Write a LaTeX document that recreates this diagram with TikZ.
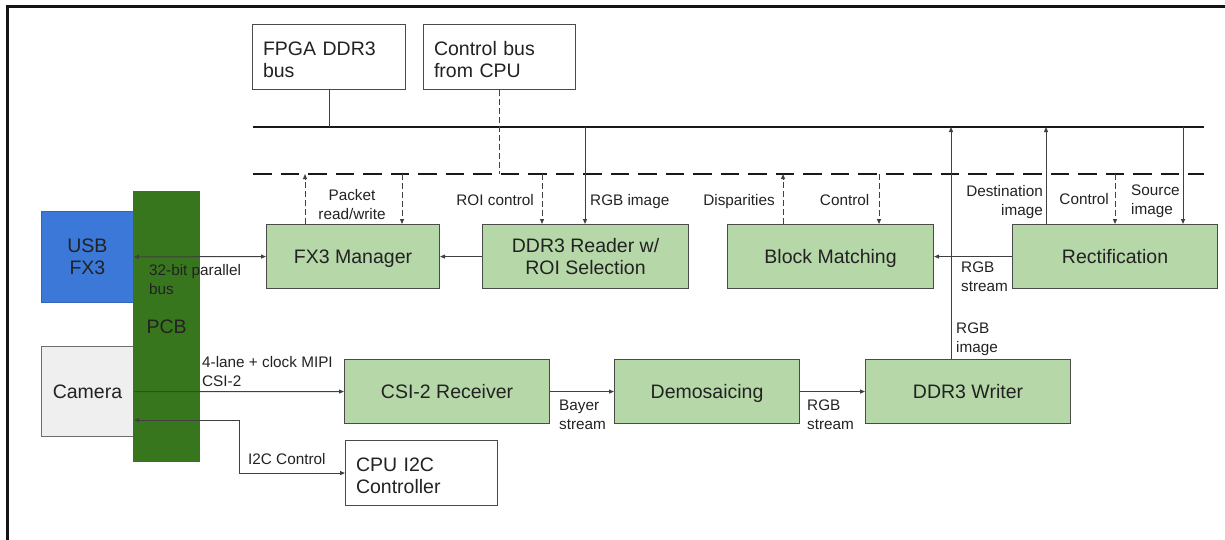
\documentclass[tikz,border=0pt]{standalone}
\usepackage{fontspec}
\setmainfont{Liberation Sans}
\usetikzlibrary{arrows.meta,calc}
\definecolor{boxgreen}{HTML}{B6D7A8}
\definecolor{pcbgreen}{HTML}{38761D}
\definecolor{usbblue}{HTML}{3C78D8}
\definecolor{camgray}{HTML}{EFEFEF}
\definecolor{linegray}{HTML}{404040}
\definecolor{boxline}{HTML}{4A4A4A}
\definecolor{txt}{HTML}{222222}
\newcommand\boxfont{\fontsize{19.5}{22.5}\selectfont}
\newcommand\lblfont{\fontsize{15.3}{19}\selectfont}
\begin{document}
\begin{tikzpicture}[x=1pt,y=-1pt,
  blk/.style={draw=boxline, line width=1.1pt, fill=boxgreen, anchor=north west, inner sep=0pt, font=\boxfont, text=txt, align=center, text depth=0pt},
  wbox/.style={draw=boxline, line width=1.1pt, fill=white, anchor=north west, inner xsep=10.5pt, inner ysep=0pt, font=\boxfont, text=txt, align=left, text height=19pt},
  lbl/.style={font=\lblfont, text=txt, inner sep=0pt},
  conn/.style={draw=linegray, line width=1pt},
  arr/.style={conn, -{Triangle[length=5pt,width=4pt]}},
  biarr/.style={conn, {Triangle[length=5pt,width=4pt]}-{Triangle[length=5pt,width=4pt]}},
  dline/.style={conn, dash pattern=on 6pt off 3pt},
  darr/.style={arr, dash pattern=on 6pt off 3pt},
  busline/.style={draw=black!90, line width=2.2pt},
  dbusline/.style={busline, dash pattern=on 18.5pt off 9pt}
]
\useasboundingbox (0,0) rectangle (1225,539);
\clip (0,0) rectangle (1225,539);
% frame
\draw[draw=black!92, line width=3pt] (7,560) |- (1240,6);

% bus lines
\coordinate (sbL) at (253,127);
\coordinate (sbR) at (1204,127);
\coordinate (dbL) at (253,174);
\coordinate (dbR) at (1204,174);
\draw[busline] (sbL) -- (sbR);
\draw[dbusline] (dbL) -- (dbR);

% top boxes
\node[wbox, minimum width=153, minimum height=65, text width=132] (fpga) at (252,24) {FPGA DDR3\\bus};
\node[wbox, minimum width=152, minimum height=65, text width=131] (ctrl) at (423,24) {Control bus\\from CPU};

% left blocks
\node[anchor=north west, fill=usbblue, draw=usbblue!85!black, line width=0.8pt, minimum width=92, minimum height=91, inner sep=0pt, font=\boxfont, text=txt, align=center] (usb) at (41,211) {USB\\FX3};
\node[anchor=north west, fill=camgray, draw=boxline!80, line width=1pt, minimum width=92, minimum height=90, inner sep=0pt, font=\boxfont, text=txt] (cam) at (41,346) {Camera};
\node[anchor=north west, fill=pcbgreen, minimum width=67, minimum height=271, inner sep=0pt, font=\boxfont, text=txt] (pcb) at (133,191) {PCB};

% green blocks
\node[blk, minimum width=173, minimum height=64] (fx3) at (266,224) {FX3 Manager};
\node[blk, minimum width=206, minimum height=64] (reader) at (482,224) {DDR3 Reader w/\\ROI Selection};
\node[blk, minimum width=206, minimum height=64] (bm) at (727,224) {Block Matching};
\node[blk, minimum width=205, minimum height=64] (rect) at (1012,224) {Rectification};
\node[blk, minimum width=205, minimum height=64] (csi) at (344,359) {CSI-2 Receiver};
\node[blk, minimum width=185, minimum height=64] (demo) at (614,359) {Demosaicing};
\node[blk, minimum width=205, minimum height=64] (writer) at (865,359) {DDR3 Writer};
\node[wbox, minimum width=152, minimum height=65, text width=131] (cpu) at (345,440) {CPU I2C\\Controller};

% connections to buses
\draw[conn] (fpga.south) -- (fpga.south |- sbL);
\draw[dline] (ctrl.south) -- (ctrl.south |- dbL);

\coordinate (xa) at (305,0);
\coordinate (xb) at (402,0);
\coordinate (xc) at (542,0);
\coordinate (xd) at (585,0);
\coordinate (xe) at (783,0);
\coordinate (xf) at (879,0);
\coordinate (xg) at (951,0);
\coordinate (xh) at (1046,0);
\coordinate (xi) at (1115,0);
\coordinate (xj) at (1183,0);

\draw[darr] (fx3.north -| xa) -- (dbL -| xa);
\draw[darr] (dbL -| xb) -- (fx3.north -| xb);
\draw[darr] (dbL -| xc) -- (reader.north -| xc);
\draw[arr] (sbL -| xd) -- (reader.north -| xd);
\draw[darr] (bm.north -| xe) -- (dbL -| xe);
\draw[darr] (dbL -| xf) -- (bm.north -| xf);
\draw[arr] (writer.north -| xg) -- (sbL -| xg);
\draw[arr] (rect.north -| xh) -- (sbL -| xh);
\draw[darr] (dbL -| xi) -- (rect.north -| xi);
\draw[arr] (sbL -| xj) -- (rect.north -| xj);

% horizontal data paths
\draw[biarr] (usb.east) -- (fx3.west);
\draw[arr] (reader.west) -- (fx3.east);
\draw[arr] (rect.west) -- (bm.east);
\draw[arr] (cam.east) -- (csi.west);
\draw[arr] (csi.east) -- (demo.west);
\draw[arr] (demo.east) -- (writer.west);
\coordinate (i2c) at (239,420);
\draw[biarr] (cam.east |- i2c) -- (i2c) |- (cpu.west);

% labels
\node[lbl, align=center, anchor=north] (lpk) at (352,188.8) {Packet\\read/write};
\node[lbl, anchor=base east] (lroi) at (534,205.5) {ROI control};
\node[lbl, anchor=base west] (lrgbi) at (590,205.5) {RGB image};
\node[lbl, anchor=base east] (ldisp) at (775,205.5) {Disparities};
\node[lbl, anchor=base east] (lbmc) at (869.5,205.5) {Control};
\node[lbl, anchor=base east] (lrc) at (1109,204.5) {Control};
\node[lbl, align=right, anchor=north east] (ldest) at (1043,185.5) {Destination\\image};
\node[lbl, align=left, anchor=north west] (lsrc) at (1131,184.5) {Source\\image};
\node[lbl, align=left, anchor=north west] (lrs1) at (961,261.5) {RGB\\stream};
\node[lbl, align=left, anchor=north west] (lri) at (956,322.5) {RGB\\image};
\node[lbl, align=left, anchor=north west] (l32) at (149,264.5) {32-bit parallel\\bus};
\node[lbl, align=left, anchor=north west] (lmipi) at (202,356.5) {4-lane + clock MIPI\\CSI-2};
\node[lbl, anchor=base west] (li2c) at (248,464.5) {I2C Control};
\node[lbl, align=left, anchor=north west] (lbay) at (559,399.5) {Bayer\\stream};
\node[lbl, align=left, anchor=north west] (lrs2) at (807,399.5) {RGB\\stream};
\end{tikzpicture}
\end{document}
